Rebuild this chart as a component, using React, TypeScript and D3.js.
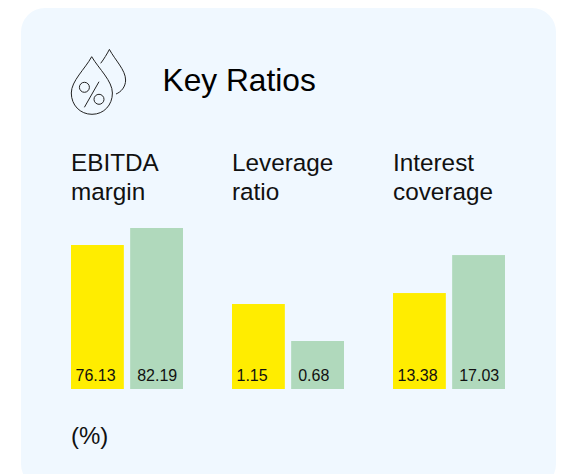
import React from "react";
import * as d3 from "d3";

const title = "Key Ratios";
const unit = "(%)";
const groupLabels = [["EBITDA", "margin"], ["Leverage", "ratio"], ["Interest", "coverage"]];
const seriesA = [76.13, 1.15, 13.38];
const seriesB = [82.19, 0.68, 17.03];
const valueText = [["76.13", "82.19"], ["1.15", "0.68"], ["13.38", "17.03"]];
const domains = [[24.8, 82.19], [0.07, 2.116], [4.16, 19.63]];
const colors = ["#FFED00", "#B0D9BC"];
const groupIds = ["0", "1", "2"];
const font = "'Liberation Sans', Arial, sans-serif";

export default function App() {
  const groupX = d3.scalePoint<string>().domain(groupIds).range([71, 393]);
  const barX = d3.scaleBand<string>().domain(["a", "b"]).range([0, 112]).paddingInner(0.107).paddingOuter(0);
  const base = 389;
  return (
    <svg width={564} height={474} style={{ position: "absolute", left: 0, top: 0, display: "block" }} fontFamily={font}>
      <rect x={21} y={8} width={535} height={480} rx={24} ry={24} fill="#F0F8FF" />
      <g fill="none" stroke="#222" strokeWidth={1}>
        <path d="M91.7 56.7 C85 69 71.3 81 71.3 93 C71.3 105 80 114.3 92 114.3 C104 114.3 112.4 105 112.4 93 C112.4 81 99 69 91.7 56.7 Z" />
        <path d="M100.7 63.3 C104 59 107 54 109.4 49.4 C115 60 125.6 70 125.6 80 C125.6 87 121 92 116 94" />
        <circle cx={84.4} cy={87.3} r={5} />
        <circle cx={99} cy={99.3} r={5} />
        <path d="M99 81.7 L84.4 107.3" />
      </g>
      <text x={162.5} y={91} fontSize={31.7} fill="#000">{title}</text>
      {groupIds.map((id, i) => {
        const y = d3.scaleLinear().domain(domains[i]).range([base, 228]);
        const x0 = groupX(id)!;
        const vals = [seriesA[i], seriesB[i]];
        return (
          <g key={id}>
            {groupLabels[i].map((l, j) => (
              <text key={l} x={x0} y={171 + j * 29} fontSize={24.3} fill="#111">{l}</text>
            ))}
            {vals.map((v, j) => {
              const k = j === 0 ? "a" : "b";
              return (
                <g key={k}>
                  <rect x={x0 + barX(k)!} y={y(v)} width={barX.bandwidth()} height={base - y(v)} fill={colors[j]} />
                  <text x={x0 + barX(k)! + (j === 0 ? 4.5 : 7)} y={381} fontSize={16} fill="#111">{valueText[i][j]}</text>
                </g>
              );
            })}
          </g>
        );
      })}
      <text x={71} y={444} fontSize={24} fill="#111">{unit}</text>
    </svg>
  );
}
